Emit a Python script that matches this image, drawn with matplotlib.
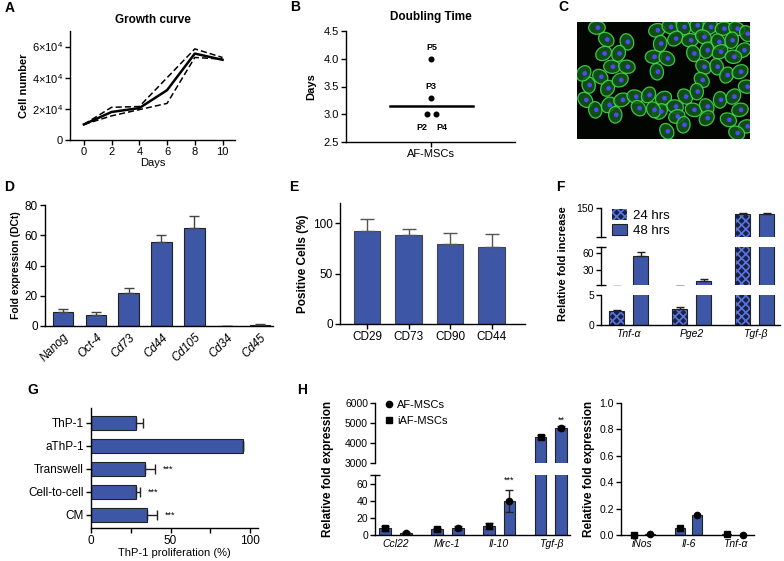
import numpy as np
import matplotlib
matplotlib.use('Agg')
import matplotlib.pyplot as plt
from matplotlib.patches import Ellipse, Circle, Patch
from matplotlib.lines import Line2D

plt.rcParams['font.family'] = ['Liberation Sans', 'DejaVu Sans']
plt.rcParams['font.size'] = 8
plt.rcParams['mathtext.fontset'] = 'custom'
plt.rcParams['mathtext.rm'] = 'Liberation Sans'
plt.rcParams['axes.linewidth'] = 1.0
plt.rcParams['hatch.linewidth'] = 1.2

BLUE = '#3e56a6'
DARK = '#17214d'
EDGE = '#222222'
W, H = 784, 561

# --- A: growth curve
days = [0, 2, 4, 6, 8, 10]
growth_mean = [1.0e4, 1.8e4, 2.05e4, 3.2e4, 5.55e4, 5.15e4]
growth_hi = [1.0e4, 2.1e4, 2.15e4, 4.0e4, 5.85e4, 5.3e4]
growth_lo = [1.0e4, 1.55e4, 1.95e4, 2.35e4, 5.3e4, 5.2e4]

# --- B: doubling time
passages = ['P2', 'P3', 'P4', 'P5']
doubling_days = [3.0, 3.3, 3.0, 4.0]
passage_jitter = [-0.05, 0.0, 0.06, 0.0]

# --- C: micrograph cell centres (pixel coords of the image)
cells = [(230, 82), (258, 118), (320, 125), (295, 160), (250, 160), (275, 200), (240, 230),
         (205, 255), (262, 265), (300, 240), (320, 200), (195, 300), (225, 330), (265, 315),
         (305, 300), (345, 290), (355, 325), (285, 345), (190, 220),
         (410, 90), (450, 80), (490, 80), (530, 75), (570, 80), (610, 85), (650, 85), (680, 100),
         (420, 130), (465, 115), (510, 120), (550, 110), (595, 125), (635, 120), (670, 150),
         (400, 170), (440, 175), (520, 160), (560, 150), (600, 155), (640, 170), (550, 200),
         (590, 200), (620, 225), (660, 215), (680, 260), (545, 240), (410, 215),
         (385, 285), (430, 295), (465, 320), (495, 290), (530, 275), (420, 335), (470, 350),
         (520, 330), (560, 320), (600, 300), (640, 290), (660, 330), (625, 360), (440, 395),
         (490, 375), (560, 355), (680, 380), (650, 400), (400, 330)]

# --- D: qPCR markers
genes_d = ['Nanog', 'Oct-4', 'Cd73', 'Cd44', 'Cd105', 'Cd34', 'Cd45']
fold_d = [9.5, 7.5, 21.5, 55.5, 64.5, 0.0, 0.8]
fold_d_err = [1.8, 1.5, 3.5, 4.5, 8.0, 0.0, 0.3]

# --- E: flow cytometry
markers_e = ['CD29', 'CD73', 'CD90', 'CD44']
pos_e = [92, 88, 79, 76]
pos_e_err = [12, 6, 11, 13]

# --- F: fold increase
genes_f = ['Tnf-α', 'Pge2', 'Tgf-β']
f24 = [2.4, 2.6, 140]
f24_err = [0.1, 0.35, 2]
f48 = [54, 11, 140]
f48_err = [8, 5, 2]

# --- G: proliferation
conditions = ['ThP-1', 'aThP-1', 'Transwell', 'Cell-to-cell', 'CM']
prolif = [28.5, 95.5, 34, 28.5, 35]
prolif_err = [4, 0, 6, 2.5, 6.5]
sig_g = ['', '', '***', '***', '***']

# --- H: relative expression
genes_h1 = ['Ccl22', 'Mrc-1', 'Il-10', 'Tgf-β']
h1_sq = [8, 6.5, 10.5, 4300]
h1_sq_err = [3, 2, 4, 100]
h1_ci = [2.5, 8, 40, 4750]
h1_ci_err = [1, 2, 13, 120]
sig_h1 = ['', '', '***', '**']

genes_h2 = ['iNos', 'Il-6', 'Tnf-α']
h2_sq = [0.0, 0.05, 0.01]
h2_ci = [0.005, 0.15, 0.0]


def box(l, t, r, b):
    return [l / W, (H - b) / H, (r - l) / W, (b - t) / H]


def clean(ax, size=8):
    ax.spines['top'].set_visible(False)
    ax.spines['right'].set_visible(False)
    ax.tick_params(direction='out', length=3.5, width=1.0, labelsize=size, pad=1.5)


def letter(fig, x, y, s):
    fig.text(x / W, 1 - y / H, s, fontsize=10, fontweight='bold', ha='left', va='center')


fig = plt.figure(figsize=(W / 100, H / 100), dpi=100)

# ---------------- A
ax = fig.add_axes(box(70, 31, 235, 140))
ax.plot(days, growth_hi, color='k', lw=1.1, ls=(0, (4, 2)))
ax.plot(days, growth_lo, color='k', lw=1.1, ls=(0, (4, 2)))
ax.plot(days, growth_mean, color='k', lw=1.8)
ax.set_xlim(-1, 10.9)
ax.set_ylim(0, 7e4)
ax.set_xticks(days)
ax.set_yticks([0, 2e4, 4e4, 6e4])
ax.set_yticklabels(['0', r'$\mathregular{2{\times}10^4}$', r'$\mathregular{4{\times}10^4}$',
                    r'$\mathregular{6{\times}10^4}$'])
clean(ax, 8)
ax.set_xlabel('Days', fontsize=8, labelpad=1)
ax.set_ylabel('Cell number', fontsize=8, fontweight='bold', labelpad=2)
ax.set_title('Growth curve', fontsize=8.5, fontweight='bold', pad=6)
letter(fig, 5, 8, 'A')

# ---------------- B
ax = fig.add_axes(box(346, 31, 515, 142))
bx = np.array(passage_jitter)
ax.scatter(bx, doubling_days, s=11, color='k', zorder=3)
med = np.median(doubling_days)
ax.plot([-0.5, 0.5], [med, med], color='k', lw=1.8)
for x, y, lab in zip(bx, doubling_days, passages):
    dy = 0.2 if lab in ('P3', 'P5') else -0.24
    ax.text(x + (0.06 * np.sign(x)), y + dy, lab, fontsize=6.5, fontweight='bold',
            ha='center', va='center')
ax.set_xlim(-1.02, 1.0)
ax.set_ylim(2.5, 4.5)
ax.set_xticks([0])
ax.set_xticklabels(['AF-MSCs'])
ax.set_yticks([2.5, 3.0, 3.5, 4.0, 4.5])
clean(ax, 8)
ax.set_ylabel('Days', fontsize=8, fontweight='bold', labelpad=5)
ax.set_title('Doubling Time', fontsize=8.5, fontweight='bold', pad=8)
letter(fig, 290, 7, 'B')

# ---------------- C
ax = fig.add_axes(box(577, 22, 750, 139))
ax.set_facecolor('#020502')
for i, (cx, cy) in enumerate(cells):
    ang = (i * 37) % 180
    ax.add_patch(Ellipse((cx, cy), 50, 40, angle=ang, facecolor='#145a1c',
                         edgecolor='#46e04c', lw=0.9, alpha=0.85))
for cx, cy in cells:
    ax.add_patch(Circle((cx + 3, cy), 7, facecolor='#4b4df2', edgecolor='none'))
ax.set_xlim(170, 690)
ax.set_ylim(418, 65)
ax.set_xticks([])
ax.set_yticks([])
for s in ax.spines.values():
    s.set_visible(False)
letter(fig, 558, 7, 'C')

# ---------------- D
ax = fig.add_axes(box(45, 205, 273, 326))
xd = np.arange(len(genes_d))
ax.bar(xd, fold_d, width=0.63, color=BLUE, edgecolor=EDGE, lw=0.8)
ax.errorbar(xd, fold_d, yerr=[np.zeros(len(xd)), fold_d_err], fmt='none',
            ecolor='#444444', elinewidth=1.0, capsize=3.5, capthick=1.0)
ax.set_xlim(-0.55, 6.4)
ax.set_ylim(0, 80)
ax.set_yticks([0, 20, 40, 60, 80])
ax.set_xticks(xd)
ax.set_xticklabels(genes_d, rotation=45, ha='right', rotation_mode='anchor', style='italic')
clean(ax, 8.5)
ax.tick_params(axis='x', length=0, pad=4)
ax.set_ylabel('Fold expression (DCt)', fontsize=7.5, fontweight='bold', labelpad=3)
letter(fig, 4, 187, 'D')

# ---------------- E
ax = fig.add_axes(box(340, 203, 525, 324))
xe = np.arange(len(markers_e))
ax.bar(xe, pos_e, width=0.64, color=BLUE, edgecolor='#444444', lw=0.8)
ax.errorbar(xe, pos_e, yerr=[np.zeros(len(xe)), pos_e_err], fmt='none',
            ecolor='#555555', elinewidth=1.0, capsize=5, capthick=1.0)
ax.set_xlim(-0.65, 3.8)
ax.set_ylim(0, 120)
ax.set_yticks([0, 50, 100])
ax.set_xticks(xe)
ax.set_xticklabels(markers_e)
clean(ax, 8.5)
ax.set_ylabel('Positive Cells (%)', fontsize=8.5, fontweight='bold', labelpad=3)
letter(fig, 289, 187, 'E')

# ---------------- F (broken axis)
xf = np.arange(len(genes_f))
f_segs = [((601, 295, 780, 325), (0, 5), [0, 5], []),
          ((601, 247, 780, 285), (5, 70), [30, 60], [5, 70]),
          ((601, 208, 780, 237), (100, 150), [150], [100])]
f_axes = []
for (bb, lim, ticks, caps) in f_segs:
    ax = fig.add_axes(box(*bb))
    ax.bar(xf - 0.19, f24, width=0.24, color=DARK, edgecolor='#5b76d6', hatch='xxxx', lw=0)
    ax.bar(xf - 0.19, f24, width=0.24, fill=False, edgecolor=EDGE, lw=0.8)
    ax.bar(xf + 0.19, f48, width=0.24, color=BLUE, edgecolor=EDGE, lw=0.8)
    ax.errorbar(xf - 0.19, f24, yerr=[np.zeros(3), f24_err], fmt='none', ecolor=EDGE,
                elinewidth=1.0, capsize=3, capthick=1.0)
    ax.errorbar(xf + 0.19, f48, yerr=[np.zeros(3), f48_err], fmt='none', ecolor=EDGE,
                elinewidth=1.0, capsize=3, capthick=1.0)
    ax.set_xlim(-0.44, 2.4)
    ax.set_ylim(*lim)
    ax.set_yticks(ticks)
    ax.set_yticks(caps, minor=True)
    clean(ax, 7.5)
    ax.tick_params(axis='y', which='minor', direction='inout', length=7, width=1.0)
    f_axes.append(ax)
for ax in f_axes[1:]:
    ax.spines['bottom'].set_visible(False)
    ax.set_xticks([])
f_axes[0].set_xticks(xf)
f_axes[0].set_xticklabels(genes_f, style='italic')
f_axes[0].tick_params(axis='x', length=0, pad=3)
fig.text(563 / W, 1 - 264 / H, 'Relative fold increase', rotation=90, fontsize=8,
         fontweight='bold', ha='center', va='center')
fig.legend(handles=[Patch(facecolor=DARK, edgecolor='#5b76d6', hatch='xxxx', lw=0),
                    Patch(facecolor=BLUE, edgecolor=EDGE, lw=0.8)],
           labels=['24 hrs', '48 hrs'], loc='upper left',
           bbox_to_anchor=(612 / W, 1 - 209 / H), frameon=False, fontsize=9.5,
           handlelength=1.1, handleheight=0.9, handletextpad=0.5, labelspacing=0.15,
           borderaxespad=0, borderpad=0)
letter(fig, 556, 187, 'F')

# ---------------- G
ax = fig.add_axes(box(91, 408, 258, 528))
yg = np.arange(len(conditions))
ax.barh(yg, prolif, height=0.58, color=BLUE, edgecolor=EDGE, lw=0.8)
ax.errorbar(prolif, yg, xerr=[np.zeros(len(yg)), prolif_err], fmt='none', ecolor=EDGE,
            elinewidth=1.0, capsize=3.5, capthick=1.0)
for y, v, e, s in zip(yg, prolif, prolif_err, sig_g):
    if s:
        ax.text(v + e + 5, y, s, fontsize=6.5, ha='left', va='center')
ax.set_xlim(0, 105)
ax.set_ylim(4.57, -0.65)
ax.set_yticks(yg)
ax.set_yticklabels(conditions)
ax.set_xticks([0, 50, 100])
ax.set_xticks([25, 75], minor=True)
clean(ax, 8.5)
ax.tick_params(which='minor', direction='out', length=3.5, width=1.0)
ax.set_xlabel('ThP-1 proliferation (%)', fontsize=8, labelpad=1)
letter(fig, 27, 390, 'G')

# ---------------- H left (broken axis)
xh = np.arange(len(genes_h1))
h_segs = [((375, 475, 570, 535), (0, 70), [0, 20, 40, 60], [70]),
          ((375, 403, 570, 463), (3000, 6000), [3000, 4000, 5000, 6000], [3000])]
h_axes = []
for (bb, lim, ticks, caps) in h_segs:
    ax = fig.add_axes(box(*bb))
    ax.bar(xh - 0.2, h1_sq, width=0.23, color=BLUE, edgecolor=EDGE, lw=0.8)
    ax.bar(xh + 0.2, h1_ci, width=0.23, color=BLUE, edgecolor=EDGE, lw=0.8)
    ax.errorbar(xh - 0.2, h1_sq, yerr=h1_sq_err, fmt='none', ecolor=EDGE,
                elinewidth=1.0, capsize=3, capthick=1.0)
    ax.errorbar(xh + 0.2, h1_ci, yerr=h1_ci_err, fmt='none', ecolor=EDGE,
                elinewidth=1.0, capsize=3, capthick=1.0)
    ax.plot(xh - 0.2, h1_sq, 's', color='k', ms=4.5)
    ax.plot(xh + 0.2, h1_ci, 'o', color='k', ms=4.5)
    ax.set_xlim(-0.4, 3.37)
    ax.set_ylim(*lim)
    ax.set_yticks(ticks)
    ax.set_yticks(caps, minor=True)
    clean(ax, 7.5)
    ax.tick_params(axis='y', which='minor', direction='inout', length=7, width=1.0)
    h_axes.append(ax)
h_axes[1].spines['bottom'].set_visible(False)
h_axes[1].set_xticks([])
h_axes[0].set_xticks(xh)
h_axes[0].set_xticklabels(genes_h1, style='italic')
h_axes[0].tick_params(axis='x', length=0, pad=3)
h_axes[0].text(2.2, 52 + 7, sig_h1[2], fontsize=6.5, ha='center', va='bottom')
h_axes[1].text(3.2, 4750 + 180, sig_h1[3], fontsize=6.5, ha='center', va='bottom')
fig.text(328 / W, 1 - 469 / H, 'Relative fold expression', rotation=90, fontsize=8.5,
         fontweight='bold', ha='center', va='center')
fig.legend(handles=[Line2D([], [], marker='o', ls='none', color='k', ms=4.5),
                    Line2D([], [], marker='s', ls='none', color='k', ms=4.5)],
           labels=['AF-MSCs', 'iAF-MSCs'], loc='upper left',
           bbox_to_anchor=(385 / W, 1 - 400 / H), frameon=False, fontsize=8,
           handlelength=0.8, handletextpad=0.3, labelspacing=0.55,
           borderaxespad=0, borderpad=0)
letter(fig, 297, 390, 'H')

# ---------------- H right
ax = fig.add_axes(box(621, 403, 754, 535))
xh2 = np.arange(len(genes_h2))
ax.bar(xh2 - 0.18, h2_sq, width=0.21, color=BLUE, edgecolor=EDGE, lw=0.8)
ax.bar(xh2 + 0.18, h2_ci, width=0.21, color=BLUE, edgecolor=EDGE, lw=0.8)
ax.plot(xh2 - 0.18, h2_sq, 's', color='k', ms=4.5, clip_on=False)
ax.plot(xh2 + 0.18, h2_ci, 'o', color='k', ms=4.5, clip_on=False)
ax.set_xlim(-0.45, 2.41)
ax.set_ylim(0, 1.0)
ax.set_yticks([0, 0.2, 0.4, 0.6, 0.8, 1.0])
ax.set_yticklabels(['0.0', '0.2', '0.4', '0.6', '0.8', '1.0'])
ax.set_xticks(xh2)
ax.set_xticklabels(genes_h2, style='italic')
clean(ax, 7.5)
ax.tick_params(axis='x', length=0, pad=3)
ax.set_ylabel('Relative fold expression', fontsize=8.5, fontweight='bold', labelpad=3)

fig.savefig('out.png', dpi=100)
